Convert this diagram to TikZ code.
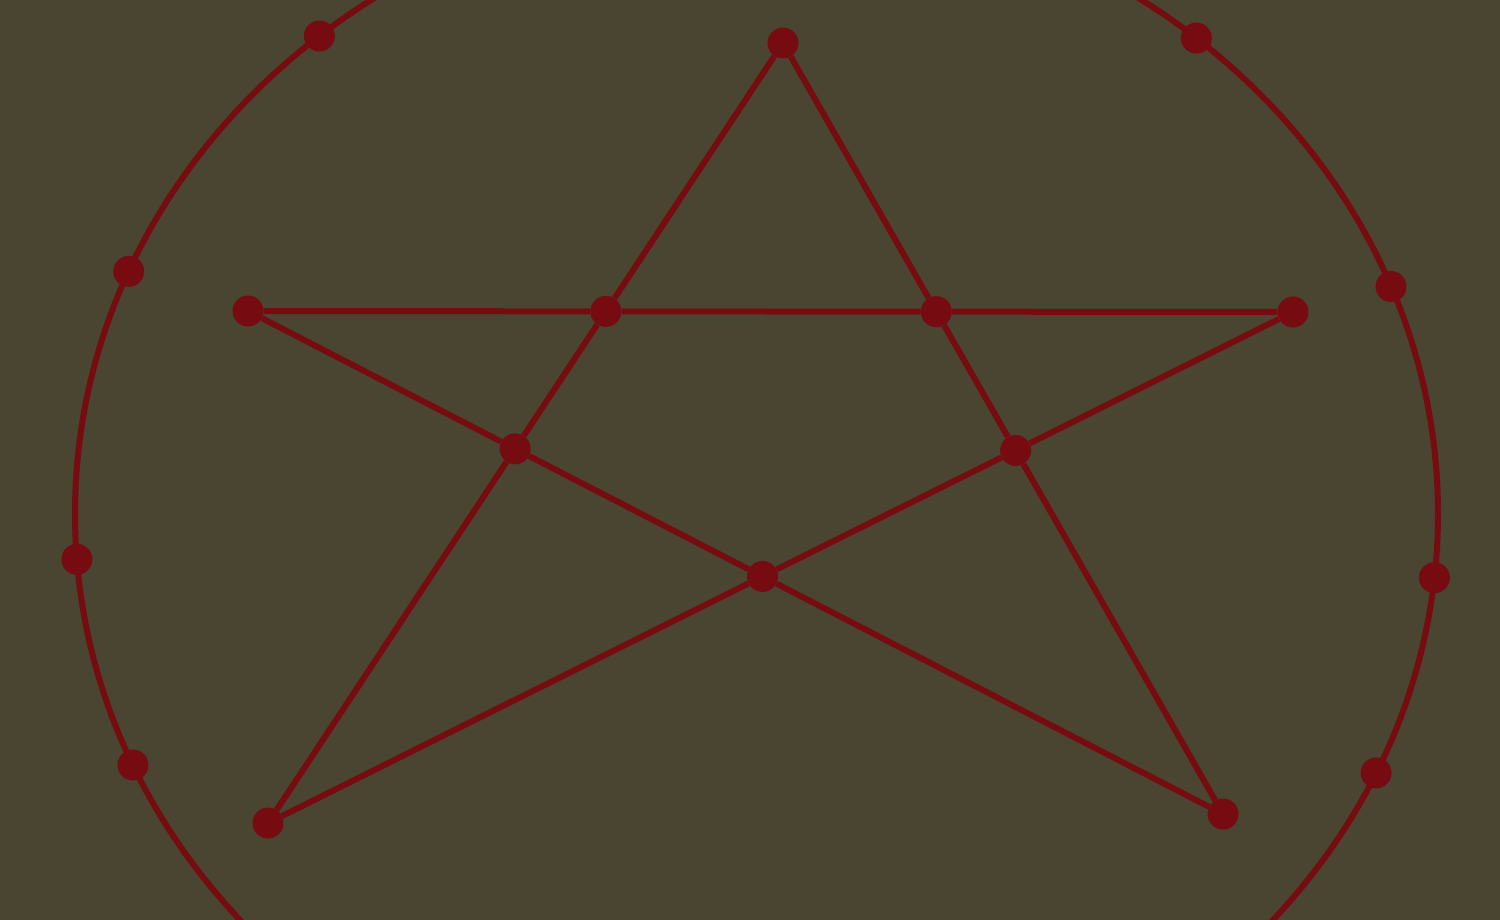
\documentclass[tikz,border=0pt]{standalone}
\usetikzlibrary{calc}
\definecolor{bg}{RGB}{74,69,48}
\definecolor{wine}{RGB}{118,12,18}
\begin{document}
\begin{tikzpicture}[x=1pt,y=-1pt,
  edge/.style={draw=wine,line width=6pt},
  ring/.style={draw=wine,line width=6pt},
  dot/.style={circle,fill=wine,draw=none,inner sep=0pt,minimum size=31pt}]
\fill[bg] (0,0) rectangle (1500,920);
\useasboundingbox (0,0) rectangle (1500,920);
\clip (0,0) rectangle (1500,920);
% outer ring
\def\cx{756.5}\def\cy{513.7}\def\rx{681.5}\def\ry{622.7}
\draw[ring] (\cx,\cy) ellipse [x radius=\rx, y radius=\ry];
\foreach \t [count=\i] in {129.9,157.1,184.2,203.8,49.8,21.4,-5.9,-24.6}
  \node[dot] (r\i) at ({\cx+\rx*cos(\t)},{\cy-\ry*sin(\t)}) {};
% star outer points
\coordinate (cT) at (783,43);
\coordinate (cL) at (248,311);
\coordinate (cR) at (1293,312);
\coordinate (cBL) at (268,823);
\coordinate (cBR) at (1223,814);
% inner intersections
\coordinate (cA) at (intersection of cT--cBL and cL--cR);
\coordinate (cB) at (intersection of cT--cBR and cL--cR);
\coordinate (cC) at (intersection of cT--cBL and cL--cBR);
\coordinate (cD) at (intersection of cT--cBR and cR--cBL);
\coordinate (cE) at (intersection of cL--cBR and cR--cBL);
\foreach \n in {T,L,R,BL,BR,A,B,C,D,E}
  \node[dot] (\n) at (c\n) {};
% star edges
\draw[edge] (T) -- (A) -- (C) -- (BL);
\draw[edge] (T) -- (B) -- (D) -- (BR);
\draw[edge] (L) -- (A) -- (B) -- (R);
\draw[edge] (L) -- (C) -- (E) -- (BR);
\draw[edge] (R) -- (D) -- (E) -- (BL);
\end{tikzpicture}
\end{document}
